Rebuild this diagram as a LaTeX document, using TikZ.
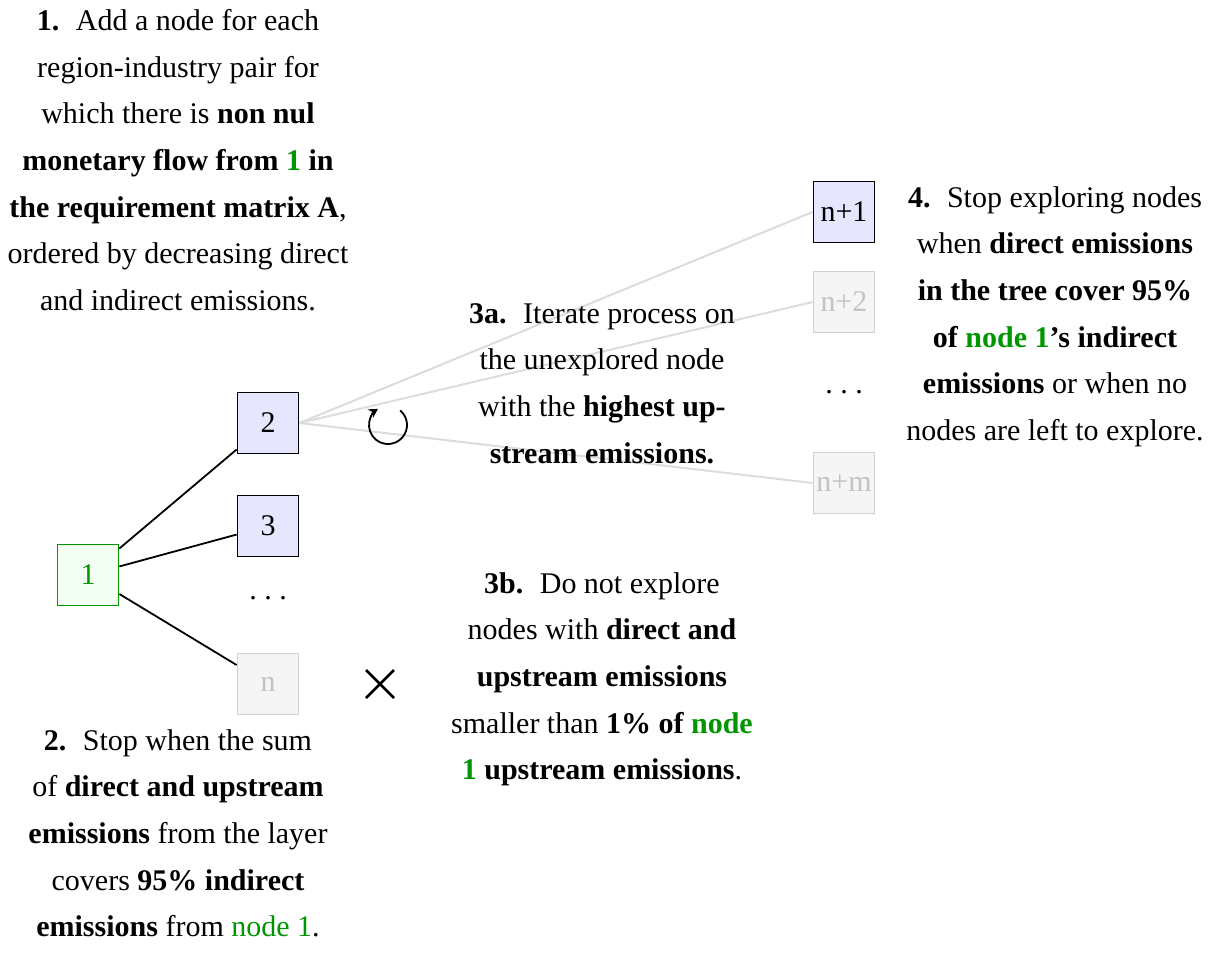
\documentclass[tikz,border=0pt]{standalone}
\usepackage{fontspec}
\setmainfont{Liberation Serif}
\usetikzlibrary{arrows.meta}
\definecolor{grn}{RGB}{0,150,0}
\definecolor{bluefill}{RGB}{230,230,255}
\definecolor{grnfill}{RGB}{242,255,242}
\definecolor{grayfill}{RGB}{245,245,245}
\definecolor{graydraw}{RGB}{210,210,210}
\definecolor{graytext}{RGB}{195,195,195}
\definecolor{edgegray}{RGB}{220,220,220}
\begin{document}
\begin{tikzpicture}[x=1pt,y=-1pt,
  box/.style={draw, line width=1.8pt, minimum size=61pt, inner sep=0pt, font=\fontsize{30}{36}\selectfont},
  activebox/.style={box, fill=bluefill, draw=black},
  rootbox/.style={box, fill=grnfill, draw=grn, text=grn},
  greybox/.style={box, fill=grayfill, draw=graydraw, text=graytext},
  txt/.style={align=center, inner sep=0pt, anchor=north, font=\fontsize{30}{46.7}\selectfont},
  edge/.style={line width=1.8pt, black},
  lightedge/.style={line width=2pt, edgegray},
  dotsnode/.style={inner sep=0pt, font=\fontsize{30}{36}\selectfont}
]
\useasboundingbox (0,0) rectangle (1211,972);

\node[rootbox] (n1) at (88,575) {1};
\node[activebox] (n2) at (268,423) {2};
\node[activebox] (n3) at (268,526) {3};
\node[dotsnode] (d1) at (268,598) {.\hspace{0.25em}.\hspace{0.25em}.};
\node[greybox] (nn) at (268,684) {n};

\node[activebox] (np1) at (844,212) {n+1};
\node[greybox] (np2) at (844,302) {n+2};
\node[dotsnode] (d2) at (844,392) {.\hspace{0.25em}.\hspace{0.25em}.};
\node[greybox] (npm) at (844,483) {n+m};

\draw[lightedge] (n2.east) -- (np1.west);
\draw[lightedge] (n2.east) -- (np2.west);
\draw[lightedge] (n2.east) -- (npm.west);

\draw[edge] (n1) -- (n2);
\draw[edge] (n1) -- (n3);
\draw[edge] (n1) -- (nn);

% iterate symbol
\coordinate (cyc) at (388,425);
\draw[line width=1.8pt, -{Stealth[length=9pt,width=10pt]}] ([shift={(-50:19)}]cyc) arc[start angle=-50, end angle=238, radius=19];

% cross symbol
\coordinate (xs) at (380,684);
\draw[line width=2.6pt] ([shift={(-14,-14)}]xs) -- ([shift={(14,14)}]xs);
\draw[line width=2.6pt] ([shift={(-14,14)}]xs) -- ([shift={(14,-14)}]xs);

\node[txt] (t1) at (178,9) {\textbf{1.}\hspace{0.55em}Add a node for each\\
region-industry pair for\\
which there is \textbf{non nul}\\
\textbf{monetary flow from \textcolor{grn}{1} in}\\
\textbf{the requirement matrix A},\\
ordered by decreasing direct\\
and indirect emissions.};

\node[txt] (t2) at (178,729) {\textbf{2.}\hspace{0.55em}Stop when the sum\\
of \textbf{direct and upstream}\\
\textbf{emissions} from the layer\\
covers \textbf{95\% indirect}\\
\textbf{emissions} from \textcolor{grn}{node 1}.};

\node[txt] (t3a) at (602,303) {\textbf{3a.}\hspace{0.55em}Iterate process on\\
the unexplored node\\
with the \textbf{highest up-}\\
\textbf{stream emissions.}};

\node[txt] (t3b) at (602,572) {\textbf{3b.}\hspace{0.55em}Do not explore\\
nodes with \textbf{direct and}\\
\textbf{upstream emissions}\\
smaller than \textbf{1\% of \textcolor{grn}{node}}\\
\textbf{\textcolor{grn}{1} upstream emissions}.};

\node[txt] (t4) at (1055,186) {\textbf{4.}\hspace{0.55em}Stop exploring nodes\\
when \textbf{direct emissions}\\
\textbf{in the tree cover 95\%}\\
\textbf{of \textcolor{grn}{node 1}'s indirect}\\
\textbf{emissions} or when no\\
nodes are left to explore.};
\end{tikzpicture}
\end{document}
